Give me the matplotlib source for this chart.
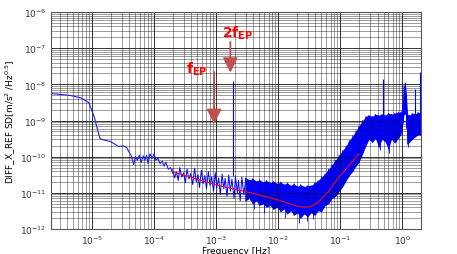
import numpy as np
import matplotlib
matplotlib.use('Agg')
import matplotlib.pyplot as plt

# low frequency part (single trace)
low_f = [2.3e-6, 3e-6, 4.6e-6, 6.7e-6, 8.9e-6, 1.08e-5, 1.35e-5, 2.0e-5, 2.7e-5, 3.2e-5,
         3.6e-5, 4.3e-5, 4.7e-5, 5.0e-5, 5.4e-5, 5.8e-5, 6.2e-5, 6.7e-5, 7.1e-5, 7.6e-5,
         8.0e-5, 8.6e-5, 9.3e-5, 1.0e-4, 1.07e-4, 1.15e-4, 1.25e-4, 1.35e-4, 1.45e-4,
         1.55e-4, 1.7e-4, 1.85e-4, 2.0e-4]
low_v = [5.5e-9, 5.3e-9, 4.9e-9, 4.2e-9, 3.1e-9, 1.3e-9, 3.1e-10, 2.6e-10, 1.9e-10, 2.0e-10,
         1.8e-10, 1.05e-10, 6e-11, 1.0e-10, 8e-11, 1.1e-10, 7e-11, 1.05e-10, 8e-11, 1.1e-10,
         6.5e-11, 1.2e-10, 9e-11, 1.2e-10, 8e-11, 9e-11, 6.5e-11, 7.5e-11, 5.5e-11,
         7e-11, 4.5e-11, 5e-11, 3.5e-11]

# sparse noisy part, 2e-4 .. 3e-3 (alternating high / low readings)
sparse_f = [2.0e-4, 2.15e-4, 2.3e-4, 2.45e-4, 2.6e-4, 2.8e-4, 3.0e-4, 3.2e-4, 3.4e-4, 3.65e-4,
            3.9e-4, 4.2e-4, 4.5e-4, 4.8e-4, 5.1e-4, 5.4e-4, 5.8e-4, 6.2e-4, 6.6e-4, 7.0e-4,
            7.5e-4, 8.0e-4, 8.5e-4, 9.1e-4, 9.7e-4, 1.03e-3, 1.1e-3, 1.17e-3, 1.25e-3, 1.33e-3,
            1.4e-3, 1.5e-3, 1.6e-3, 1.7e-3, 1.8e-3, 1.95e-3, 2.05e-3, 2.2e-3, 2.3e-3, 2.45e-3,
            2.6e-3, 2.8e-3, 3.0e-3]
sparse_v = [4.5e-11, 2.6e-11, 3.8e-11, 2.2e-11, 5.0e-11, 2.7e-11, 3.6e-11, 1.9e-11, 4.6e-11, 2.4e-11,
            3.4e-11, 1.7e-11, 4.8e-11, 2.0e-11, 3.2e-11, 1.4e-11, 4.2e-11, 1.8e-11, 3.0e-11, 1.3e-11,
            3.9e-11, 1.6e-11, 2.8e-11, 1.1e-11, 3.6e-11, 1.4e-11, 2.6e-11, 9e-12, 3.3e-11, 1.3e-11,
            2.5e-11, 8e-12, 3.1e-11, 1.1e-11, 2.4e-11, 7e-12, 2.9e-11, 1.0e-11, 2.2e-11, 6e-12,
            2.7e-11, 9e-12, 2.4e-11]

# dense noisy band (upper / lower envelope), 3e-3 .. 2 Hz
band_f = [3.0e-3, 3.4e-3, 3.9e-3, 4.4e-3, 5.0e-3, 5.7e-3, 6.5e-3, 7.4e-3, 8.4e-3,
          9.6e-3, 1.1e-2, 1.25e-2, 1.4e-2, 1.6e-2, 1.8e-2, 2.05e-2, 2.3e-2, 2.6e-2, 3.0e-2,
          3.4e-2, 3.9e-2, 4.4e-2, 5.0e-2, 5.7e-2, 6.5e-2, 7.4e-2, 8.4e-2, 9.6e-2, 0.11,
          0.125, 0.14, 0.16, 0.18, 0.2, 0.23, 0.26, 0.29, 0.33, 0.37,
          0.42, 0.47, 0.53, 0.6, 0.67, 0.76, 0.86, 0.95, 1.02, 1.07,
          1.12, 1.17, 1.22, 1.3, 1.45, 1.6, 1.8, 2.0]
band_hi = [2.6e-11, 2.3e-11, 2.5e-11, 2.1e-11, 2.3e-11, 2.0e-11, 2.2e-11, 1.9e-11, 2.1e-11,
           1.8e-11, 2.0e-11, 1.7e-11, 1.9e-11, 1.6e-11, 1.8e-11, 1.5e-11, 1.7e-11, 1.5e-11, 1.6e-11,
           1.6e-11, 1.9e-11, 2.2e-11, 2.7e-11, 3.4e-11, 4.5e-11, 6e-11, 8e-11, 1.1e-10, 1.5e-10,
           2.0e-10, 2.8e-10, 3.8e-10, 5.2e-10, 7e-10, 1.0e-9, 1.3e-9, 1.4e-9, 1.3e-9, 1.5e-9,
           1.4e-9, 1.5e-9, 1.4e-9, 1.6e-9, 1.5e-9, 1.6e-9, 1.7e-9, 1.7e-9, 3e-9, 9e-9,
           1.1e-8, 5e-9, 1.5e-9, 1.4e-9, 1.6e-9, 1.5e-9, 1.7e-9, 1.6e-9]
band_lo = [6e-12, 7e-12, 5e-12, 6e-12, 4.5e-12, 5e-12, 4e-12, 4.5e-12, 3.5e-12,
           4e-12, 3e-12, 3.6e-12, 2.6e-12, 3.2e-12, 2.4e-12, 2.8e-12, 2.0e-12, 2.6e-12, 2.2e-12,
           2.8e-12, 2.4e-12, 3.2e-12, 3e-12, 4.5e-12, 5e-12, 7e-12, 8e-12, 1.1e-11, 1.5e-11,
           2.2e-11, 3e-11, 4e-11, 5.5e-11, 7e-11, 1.2e-10, 2e-10, 3e-10, 2.5e-10, 3.2e-10,
           1.8e-10, 3e-10, 2.6e-10, 1.6e-10, 3e-10, 2.4e-10, 3.2e-10, 4e-10, 8e-10, 1.5e-9,
           1.5e-9, 6e-10, 2.2e-10, 2.5e-10, 3e-10, 3.5e-10, 4e-10, 4e-10]

# downward noise spikes below the dense band
dip_f = [4.1e-3, 6.0e-3, 1.3e-2, 2.2e-2, 2.9e-2, 3.6e-2, 0.44, 0.62, 1.25]
dip_top = [6e-12, 5e-12, 3.5e-12, 2.5e-12, 2.5e-12, 2.8e-12, 3e-10, 3e-10, 3e-10]
dip_v = [3.5e-12, 2.8e-12, 2.0e-12, 1.5e-12, 1.7e-12, 1.9e-12, 1.5e-10, 1.3e-10, 1.8e-10]

# isolated spectral lines
spike_f = [1.87e-3, 0.49, 1.6, 1.95]
spike_lo = [3e-11, 3e-10, 4e-10, 4e-10]
spike_hi = [1.2e-8, 1.4e-8, 7.5e-9, 2.2e-8]

# fitted noise model (red)
fit_f = [2.0e-4, 3e-4, 5e-4, 1e-3, 2e-3, 3.7e-3, 7e-3, 1.2e-2, 2.0e-2, 2.6e-2,
         3.3e-2, 4.5e-2, 6.5e-2, 9e-2, 0.13, 0.2]
fit_v = [3.8e-11, 3.1e-11, 2.4e-11, 1.65e-11, 1.25e-11, 1.0e-11, 7.5e-12, 5.8e-12, 4.3e-12, 4.0e-12,
         4.1e-12, 5.6e-12, 1.1e-11, 2.4e-11, 5e-11, 1.2e-10]

# zigzag trace through the dense envelope for ragged edges
zz_f = np.repeat(band_f, 2)
zz_v = np.ravel(np.column_stack([band_hi, band_lo]))

fig = plt.figure(figsize=(4.57, 2.55), dpi=100)
ax = fig.add_axes([0.112, 0.098, 0.809, 0.851])

ax.plot(low_f, low_v, color='#2020e8', lw=0.8)
ax.plot(sparse_f, sparse_v, color='blue', lw=0.7)
ax.fill_between(band_f, band_lo, band_hi, color='blue', lw=0)
ax.plot(zz_f, zz_v, color='blue', lw=0.6)
ax.vlines(dip_f, dip_v, dip_top, color='blue', lw=0.6)
ax.vlines(spike_f, spike_lo, spike_hi, color='blue', lw=0.8)
ax.plot(fit_f, fit_v, color='#e8102a', lw=0.8)

ax.set_xscale('log')
ax.set_yscale('log')
ax.set_xlim(2.2e-6, 2.0)
ax.set_ylim(1e-12, 1e-6)

ax.grid(True, which='major', color='black', lw=0.7, alpha=0.8)
ax.grid(True, which='minor', color='black', lw=0.6, alpha=0.45)
ax.tick_params(which='both', labelsize=6.5, length=0, colors='#333333')
for s in ax.spines.values():
    s.set_color('#555555')

ax.set_xlabel('Frequency [Hz]', fontsize=6.5)
ax.set_ylabel(r'DIFF_X_REF SD[m/s$^2$ /Hz$^{0.5}$]', fontsize=6.5)
ax.xaxis.set_label_coords(0.5, -0.078)
ax.yaxis.set_label_coords(-0.09, 0.5)

# annotations for f_EP and 2f_EP
arrow_kw = dict(arrowstyle='-|>,head_width=0.45,head_length=0.9', color='#c0504d', lw=1.3,
                shrinkA=0, shrinkB=0)
ax.annotate('', xy=(9.3e-4, 8e-10), xytext=(9.3e-4, 2.2e-8), arrowprops=arrow_kw)
ax.annotate('', xy=(1.7e-3, 2.1e-8), xytext=(1.7e-3, 1.5e-7), arrowprops=arrow_kw)
ax.text(4.8e-4, 2.7e-8, r'$\mathbf{f_{EP}}$', color='red', fontsize=10, ha='center', va='center')
ax.text(2.2e-3, 2.8e-7, r'$\mathbf{2f_{EP}}$', color='red', fontsize=10, ha='center', va='center')

fig.savefig('out.png', dpi=100)
